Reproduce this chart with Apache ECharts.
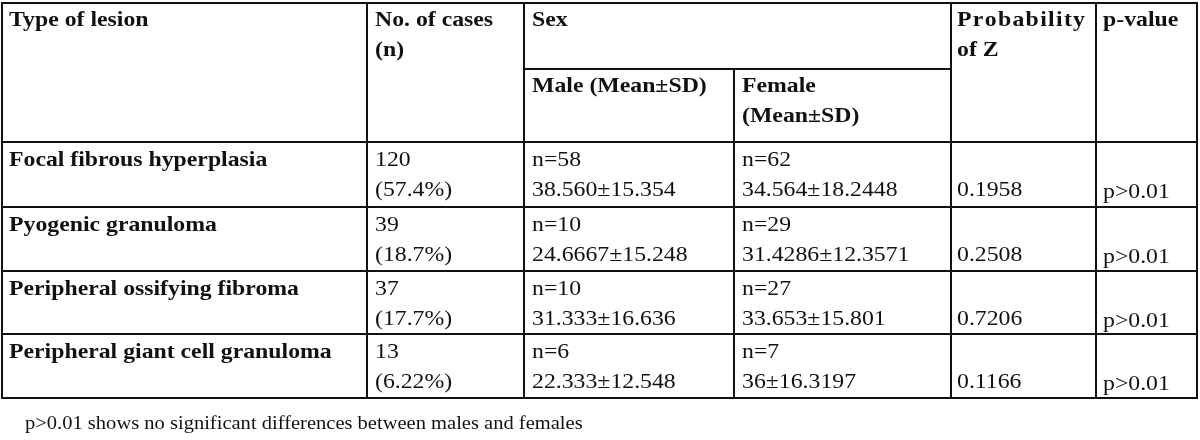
<!DOCTYPE html>
<html>
<head>
<meta charset="utf-8">
<script src="https://cdn.jsdelivr.net/npm/echarts@6/dist/echarts.min.js"></script>
<style>
html,body{margin:0;padding:0;background:#fff;}
#chart{width:1200px;height:440px;}
</style>
</head>
<body>
<div id="chart"></div>
<script>
// ---- data ----
var headerLesion = 'Type of lesion';
var headerCases = ['No. of cases', '(n)'];
var headerSex = 'Sex';
var headerMale = 'Male (Mean±SD)';
var headerFemale = ['Female', '(Mean±SD)'];
var headerProb = ['Probability', 'of Z'];
var headerP = 'p-value';
var lesions = ['Focal fibrous hyperplasia', 'Pyogenic granuloma', 'Peripheral ossifying fibroma', 'Peripheral giant cell granuloma'];
var cases = [120, 39, 37, 13];
var casePct = ['57.4%', '18.7%', '17.7%', '6.22%'];
var maleN = [58, 10, 10, 6];
var maleStat = ['38.560±15.354', '24.6667±15.248', '31.333±16.636', '22.333±12.548'];
var femaleN = [62, 29, 27, 7];
var femaleStat = ['34.564±18.2448', '31.4286±12.3571', '33.653±15.801', '36±16.3197'];
var probZ = ['0.1958', '0.2508', '0.7206', '0.1166'];
var pValue = ['p>0.01', 'p>0.01', 'p>0.01', 'p>0.01'];
var footnote = 'p>0.01 shows no significant differences between males and females';

// ---- layout ----
var colX = [2, 367, 524, 734, 951, 1096, 1197];
var topY = 3, subY = 69, headBottom = 142;
var rowEdges = [142, 207, 271, 334, 398];
var PAD = 7;
var FS = 22, SX = 1.08, LINE = 30, BASE = 24;
var FAM = 'Liberation Serif';
var LW = 2, LC = '#111';

var els = [];
function hline(y, x1, x2) {
  els.push({type: 'line', shape: {x1: x1 - 1, y1: y, x2: x2 + 1, y2: y}, style: {stroke: LC, lineWidth: LW}});
}
function vline(x, y1, y2) {
  els.push({type: 'line', shape: {x1: x, y1: y1 - 1, x2: x, y2: y2 + 1}, style: {stroke: LC, lineWidth: LW}});
}
function txt(s, x, baseline, bold, fs) {
  fs = fs || FS;
  els.push({
    type: 'text', x: x, y: baseline - 0.31 * fs, scaleX: SX,
    style: {
      text: s, x: 0, y: 0, fill: '#111',
      fontFamily: FAM, fontSize: fs, fontWeight: bold ? 'bold' : 'normal',
      align: 'left', verticalAlign: 'middle'
    }
  });
}
var mctx = document.createElement('canvas').getContext('2d');
function spacedTxt(s, x, baseline, bold, totalW) {
  mctx.font = (bold ? 'bold ' : '') + FS + 'px "' + FAM + '"';
  var widths = s.split('').map(function (c) { return mctx.measureText(c).width * SX; });
  var natural = widths.reduce(function (a, b) { return a + b; }, 0);
  var gap = (totalW - natural) / (s.length - 1);
  var cx = x;
  s.split('').forEach(function (c, i) {
    txt(c, cx, baseline, bold);
    cx += widths[i] + gap;
  });
}

// grid lines
hline(topY, colX[0], colX[6]);
hline(subY, colX[2], colX[4]);
rowEdges.forEach(function (y) { hline(y, colX[0], colX[6]); });
[0, 1, 2, 4, 5, 6].forEach(function (i) { vline(colX[i], topY, rowEdges[rowEdges.length - 1]); });
vline(colX[3], subY, rowEdges[rowEdges.length - 1]);

// header
var hb = topY + BASE;
txt(headerLesion, colX[0] + PAD, hb, true);
txt(headerCases[0], colX[1] + PAD + 1, hb, true);
txt(headerCases[1], colX[1] + PAD + 1, hb + LINE, true);
txt(headerSex, colX[2] + PAD + 1, hb, true);
spacedTxt(headerProb[0], colX[4] + PAD - 1, hb, true, 128);
txt(headerProb[1], colX[4] + PAD - 1, hb + LINE, true);
txt(headerP, colX[5] + PAD, hb, true);
var sb = subY + BASE;
txt(headerMale, colX[2] + PAD + 1, sb, true);
txt(headerFemale[0], colX[3] + PAD + 1, sb, true);
txt(headerFemale[1], colX[3] + PAD + 1, sb + LINE, true);

// body
lesions.forEach(function (name, i) {
  var b1 = rowEdges[i] + BASE + 1;
  var b2 = b1 + LINE;
  txt(name, colX[0] + PAD, b1, true);
  txt(String(cases[i]), colX[1] + PAD + 1, b1, false);
  txt('(' + casePct[i] + ')', colX[1] + PAD + 1, b2, false);
  txt('n=' + maleN[i], colX[2] + PAD + 1, b1, false);
  txt(maleStat[i], colX[2] + PAD + 1, b2, false);
  txt('n=' + femaleN[i], colX[3] + PAD + 1, b1, false);
  txt(femaleStat[i], colX[3] + PAD + 1, b2, false);
  txt(probZ[i], colX[4] + PAD - 1, b2, false);
  txt(pValue[i], colX[5] + PAD, b2 + 2, false);
});

// footnote
txt(footnote, 25, 430, false, 19);

var chart = echarts.init(document.getElementById('chart'), null, {renderer: 'canvas'});
chart.setOption({
  backgroundColor: '#fff',
  animation: false,
  graphic: {elements: els}
});
</script>
</body>
</html>
